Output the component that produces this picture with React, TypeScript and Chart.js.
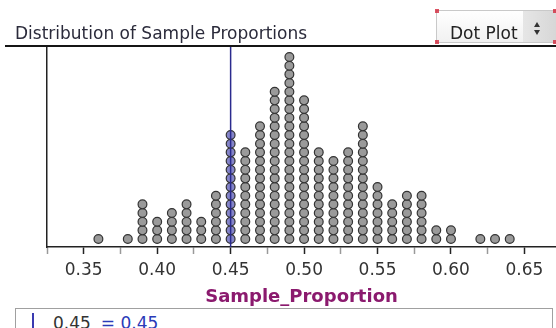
import React, { useEffect, useRef } from 'react';
import { Chart, registerables } from 'chart.js';

Chart.register(...registerables);

// ---- data ----
const proportions = [0.36, 0.38, 0.39, 0.40, 0.41, 0.42, 0.43, 0.44, 0.45, 0.46, 0.47, 0.48, 0.49, 0.50, 0.51, 0.52, 0.53, 0.54, 0.55, 0.56, 0.57, 0.58, 0.59, 0.60, 0.62, 0.63, 0.64];
const counts = [1, 1, 5, 3, 4, 5, 3, 6, 13, 11, 14, 18, 22, 17, 11, 10, 11, 14, 7, 5, 6, 6, 2, 2, 1, 1, 1];
const tickValues = [0.325, 0.35, 0.375, 0.4, 0.425, 0.45, 0.475, 0.5, 0.525, 0.55, 0.575, 0.6, 0.625, 0.65];
const majorTickValues = [0.35, 0.4, 0.45, 0.5, 0.55, 0.6, 0.65];
const majorTickLabels = ['0.35', '0.40', '0.45', '0.50', '0.55', '0.60', '0.65'];
const markerValue = 0.45;
const markerLabel = '0.45';
const markerValueText = '0.45';
const xMin = 0.325;
const xMax = 0.6715;
const titleText = 'Distribution of Sample Proportions';
const axisTitle = 'Sample_Proportion';
const plotTypeLabel = 'Dot Plot';

const FONT = "'DejaVu Sans', 'Liberation Sans', Arial, sans-serif";

function majorIndex(v: number) {
  return majorTickValues.findIndex((m) => Math.abs(m - v) < 1e-6);
}

export default function App() {
  const canvasRef = useRef<HTMLCanvasElement | null>(null);

  useEffect(() => {
    const canvas = canvasRef.current;
    if (!canvas) return;
    const points: { x: number; y: number }[] = [];
    proportions.forEach((p, i) => {
      for (let k = 1; k <= counts[i]; k++) points.push({ x: p, y: k });
    });

    const overlayPlugin = {
      id: 'overlay',
      afterDatasetsDraw(chart: any) {
        const { ctx, chartArea, scales } = chart;
        const x = scales.x.getPixelForValue(markerValue);
        ctx.save();
        ctx.strokeStyle = '#2a2a8e';
        ctx.lineWidth = 1.5;
        ctx.beginPath();
        ctx.moveTo(x, chartArea.top);
        ctx.lineTo(x, chartArea.bottom);
        ctx.stroke();
        ctx.strokeStyle = '#151515';
        ctx.lineWidth = 2;
        ctx.beginPath();
        ctx.moveTo(5, chartArea.top);
        ctx.lineTo(chart.width, chartArea.top);
        ctx.stroke();
        ctx.restore();
      },
    };

    const chart = new Chart(canvas, {
      type: 'scatter',
      data: {
        datasets: [
          {
            data: points,
            pointRadius: 4.4,
            pointBorderWidth: 1.2,
            pointBorderColor: '#333333',
            pointBackgroundColor: (ctx: any) => {
              const raw = ctx.raw;
              return raw && Math.abs(raw.x - markerValue) < 1e-6 ? '#8484c8' : '#9a9a9a';
            },
            showLine: false,
          } as any,
        ],
      },
      options: {
        responsive: false,
        animation: false,
        layout: { autoPadding: false, padding: { left: 47, top: 46, right: 0, bottom: 0 } },
        plugins: {
          legend: { display: false },
          tooltip: { enabled: false },
          title: { display: false },
        },
        scales: {
          x: {
            type: 'linear',
            min: xMin,
            max: xMax,
            afterBuildTicks: (scale: any) => {
              scale.ticks = tickValues.map((v) => ({ value: v }));
            },
            afterFit: (scale: any) => {
              scale.height = 81;
            },
            grid: {
              drawOnChartArea: false,
              drawTicks: true,
              tickLength: 7,
              tickWidth: 1.5,
              tickColor: (ctx: any) => (ctx.tick && majorIndex(ctx.tick.value) >= 0 ? '#222' : '#999'),
            },
            border: { display: true, color: '#222', width: 1.5 },
            ticks: {
              autoSkip: false,
              maxRotation: 0,
              padding: 6,
              color: '#333',
              font: { family: FONT, size: 17 },
              callback: (v: any) => {
                const i = majorIndex(Number(v));
                return i >= 0 ? majorTickLabels[i] : '';
              },
            },
            title: {
              display: true,
              text: axisTitle,
              color: '#8b1a6e',
              font: { family: FONT, size: 18, weight: 'bold' },
              padding: { top: 0, bottom: 20 },
            },
          },
          y: {
            type: 'linear',
            min: 0.08,
            max: 23.27,
            display: true,
            afterFit: (scale: any) => {
              scale.width = 0;
            },
            ticks: { display: false },
            grid: { drawOnChartArea: false, drawTicks: false },
            border: { display: true, color: '#222', width: 1.5 },
          },
        },
      } as any,
      plugins: [overlayPlugin],
    });
    return () => chart.destroy();
  }, []);

  return (
    <div
      style={{
        position: 'fixed',
        left: 0,
        top: 0,
        width: 556,
        height: 328,
        background: '#fff',
        overflow: 'hidden',
        fontFamily: FONT,
      }}
    >
      <canvas ref={canvasRef} width={556} height={328} style={{ position: 'absolute', left: 0, top: 0 }} />
      <div
        style={{
          position: 'absolute',
          left: 15,
          top: 25,
          fontSize: 17,
          lineHeight: '17px',
          color: '#2b2b3b',
          whiteSpace: 'nowrap',
        }}
      >
        {titleText}
      </div>
      {/* plot type selector */}
      <div
        style={{
          position: 'absolute',
          left: 436,
          top: 10,
          width: 130,
          height: 33,
          boxSizing: 'border-box',
          border: '1px solid #c9c9c9',
          background: 'linear-gradient(#ffffff, #f1f1f1)',
        }}
      >
        <div
          style={{
            position: 'absolute',
            left: 86,
            top: 0,
            width: 44,
            height: 31,
            background: 'linear-gradient(90deg, #e6e6e6, #d2d2d2)',
          }}
        />
        <div
          style={{
            position: 'absolute',
            left: 13,
            top: 14,
            fontSize: 17,
            lineHeight: '17px',
            color: '#222',
            whiteSpace: 'nowrap',
          }}
        >
          {plotTypeLabel}
        </div>
        <div
          style={{
            position: 'absolute',
            left: 97,
            top: 11,
            width: 0,
            height: 0,
            borderLeft: '3px solid transparent',
            borderRight: '3px solid transparent',
            borderBottom: '5px solid #333',
          }}
        />
        <div
          style={{
            position: 'absolute',
            left: 97,
            top: 19,
            width: 0,
            height: 0,
            borderLeft: '3px solid transparent',
            borderRight: '3px solid transparent',
            borderTop: '5px solid #333',
          }}
        />
      </div>
      {[
        [435, 9],
        [553, 9],
        [435, 40],
        [553, 40],
      ].map(([l, t], i) => (
        <div
          key={i}
          style={{ position: 'absolute', left: l, top: t, width: 4, height: 4, background: 'rgba(210,40,60,0.8)' }}
        />
      ))}
      {/* legend / footer box */}
      <div
        style={{
          position: 'absolute',
          left: 15,
          top: 308,
          width: 538,
          height: 40,
          boxSizing: 'border-box',
          border: '1px solid #a0a0a0',
          background: '#fff',
        }}
      >
        <div style={{ position: 'absolute', left: 16, top: 4, width: 2, height: 20, background: '#3a3ab0' }} />
        <div
          style={{
            position: 'absolute',
            left: 37,
            top: 6,
            fontSize: 17,
            lineHeight: '17px',
            whiteSpace: 'nowrap',
            color: '#333',
          }}
        >
          {markerLabel}
          <span style={{ color: '#2a3ab8', marginLeft: 10 }}>= {markerValueText}</span>
        </div>
      </div>
    </div>
  );
}
